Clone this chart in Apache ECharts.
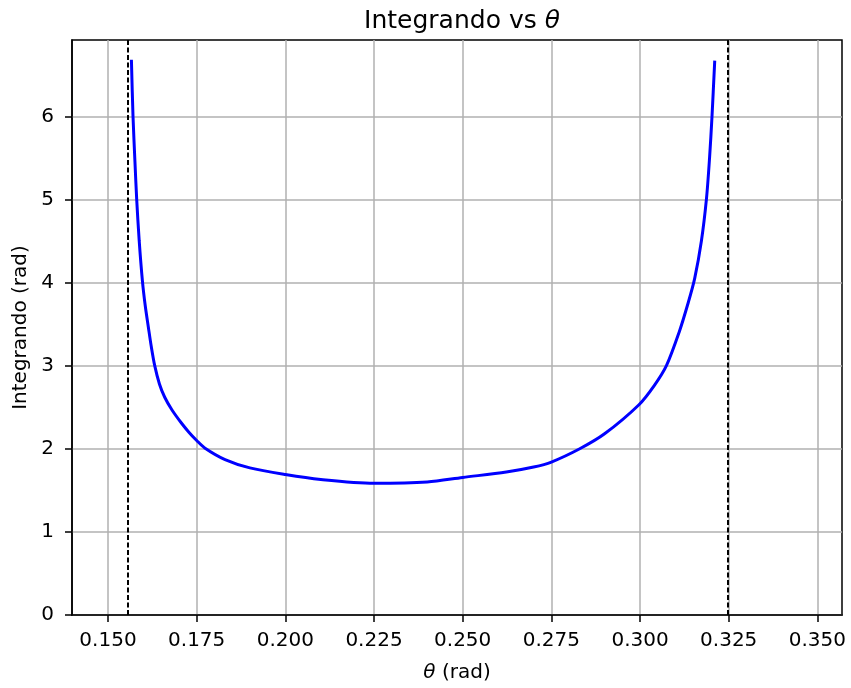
<!DOCTYPE html>
<html>
	<head>
		<meta charset="utf-8" />
		<title>Integrando vs θ</title>
		<style>
			html, body { margin: 0; padding: 0; background: #fff; }
			#chart { width: 851px; height: 688px; }
		</style>
	</head>
	<body>
		<div id="chart"></div>
	</body>
	<script src="https://cdn.jsdelivr.net/npm/echarts@6/dist/echarts.min.js" type="text/javascript" charset="utf-8"></script>
	<script type="text/javascript">
		// valores
		var theta = [0.15660, 0.15705, 0.15760, 0.15809, 0.15880, 0.15970, 0.16050, 0.16139, 0.16220, 0.16317,
			0.16450, 0.16599, 0.16800, 0.17069, 0.17280, 0.17500, 0.17726, 0.18300, 0.19000, 0.20000,
			0.21000, 0.22500, 0.24000, 0.25000, 0.26230, 0.27000, 0.27500, 0.28300, 0.29000, 0.29970,
			0.30400, 0.30744, 0.31100, 0.31360, 0.31541, 0.31730, 0.31871, 0.31960, 0.32029, 0.32106];
		var integrando = [6.68, 6.00, 5.45, 5.00, 4.50, 4.02, 3.72, 3.46, 3.23, 3.00,
			2.78, 2.62, 2.47, 2.31, 2.20, 2.10, 2.01, 1.87, 1.77, 1.69,
			1.63, 1.585, 1.60, 1.655, 1.72, 1.78, 1.84, 2.00, 2.18, 2.53,
			2.76, 3.00, 3.40, 3.76, 4.05, 4.50, 5.00, 5.50, 6.00, 6.67];
		var asintotas = [0.15564, 0.3248];
		var xTicks = [0.150, 0.175, 0.200, 0.225, 0.250, 0.275, 0.300, 0.325, 0.350];
		var yTicks = [0, 1, 2, 3, 4, 5, 6];

		var puntos = [];
		for (var i = 0; i < theta.length; i++) {
			puntos.push([theta[i], integrando[i]]);
		}
		var lineas = [];
		for (var j = 0; j < asintotas.length; j++) {
			lineas.push({ xAxis: asintotas[j] });
		}

		var fuente = 'DejaVu Sans';
		var myChart = echarts.init(document.getElementById('chart'));
		var option = {
			animation: false,
			backgroundColor: '#ffffff',
			title: {
				text: 'Integrando vs {i|θ}',
				left: 457,
				top: 4,
				textAlign: 'center',
				textStyle: {
					fontFamily: fuente,
					fontSize: 25,
					fontWeight: 'normal',
					color: '#000',
					rich: { i: { fontFamily: fuente, fontSize: 25, fontStyle: 'italic', color: '#000' } }
				}
			},
			grid: {
				left: 72,
				right: 9,
				top: 40,
				bottom: 73,
				show: true,
				borderColor: '#000',
				borderWidth: 1.5,
				containLabel: false,
				outerBoundsMode: 'none'
			},
			xAxis: {
				type: 'value',
				min: 0.13985,
				max: 0.35694,
				name: '{i|θ} (rad)',
				nameLocation: 'middle',
				nameGap: 48,
				nameTextStyle: {
					fontFamily: fuente,
					fontSize: 20,
					color: '#000',
					rich: { i: { fontFamily: fuente, fontSize: 20, fontStyle: 'italic', color: '#000' } }
				},
				axisLine: { show: true, onZero: false, lineStyle: { color: '#000', width: 1.5 } },
				axisTick: { show: true, inside: false, length: 7, customValues: xTicks, lineStyle: { color: '#000', width: 1.5 } },
				axisLabel: {
					customValues: xTicks,
					margin: 16,
					fontFamily: fuente,
					fontSize: 20,
					color: '#000',
					formatter: function (v) { return v.toFixed(3); }
				},
				splitLine: { show: true, lineStyle: { color: '#b0b0b0', width: 1.5 } }
			},
			yAxis: {
				type: 'value',
				min: 0,
				max: 6.918,
				name: 'Integrando (rad)',
				nameLocation: 'middle',
				nameGap: 41,
				nameTextStyle: { fontFamily: fuente, fontSize: 20, color: '#000' },
				axisLine: { show: true, onZero: false, lineStyle: { color: '#000', width: 1.5 } },
				axisTick: { show: true, inside: false, length: 7, customValues: yTicks, lineStyle: { color: '#000', width: 1.5 } },
				axisLabel: {
					customValues: yTicks,
					margin: 18,
					fontFamily: fuente,
					fontSize: 20,
					color: '#000'
				},
				splitLine: { show: true, lineStyle: { color: '#b0b0b0', width: 1.5 } }
			},
			series: [{
				type: 'line',
				data: puntos,
				showSymbol: false,
				smooth: 0.3,
				lineStyle: { color: '#0000ff', width: 3 },
				markLine: {
					silent: true,
					symbol: 'none',
					precision: 6,
					label: { show: false },
					lineStyle: { color: '#000', width: 2, type: [5, 2.5] },
					data: lineas
				}
			}]
		};
		myChart.setOption(option);
	</script>
</html>
